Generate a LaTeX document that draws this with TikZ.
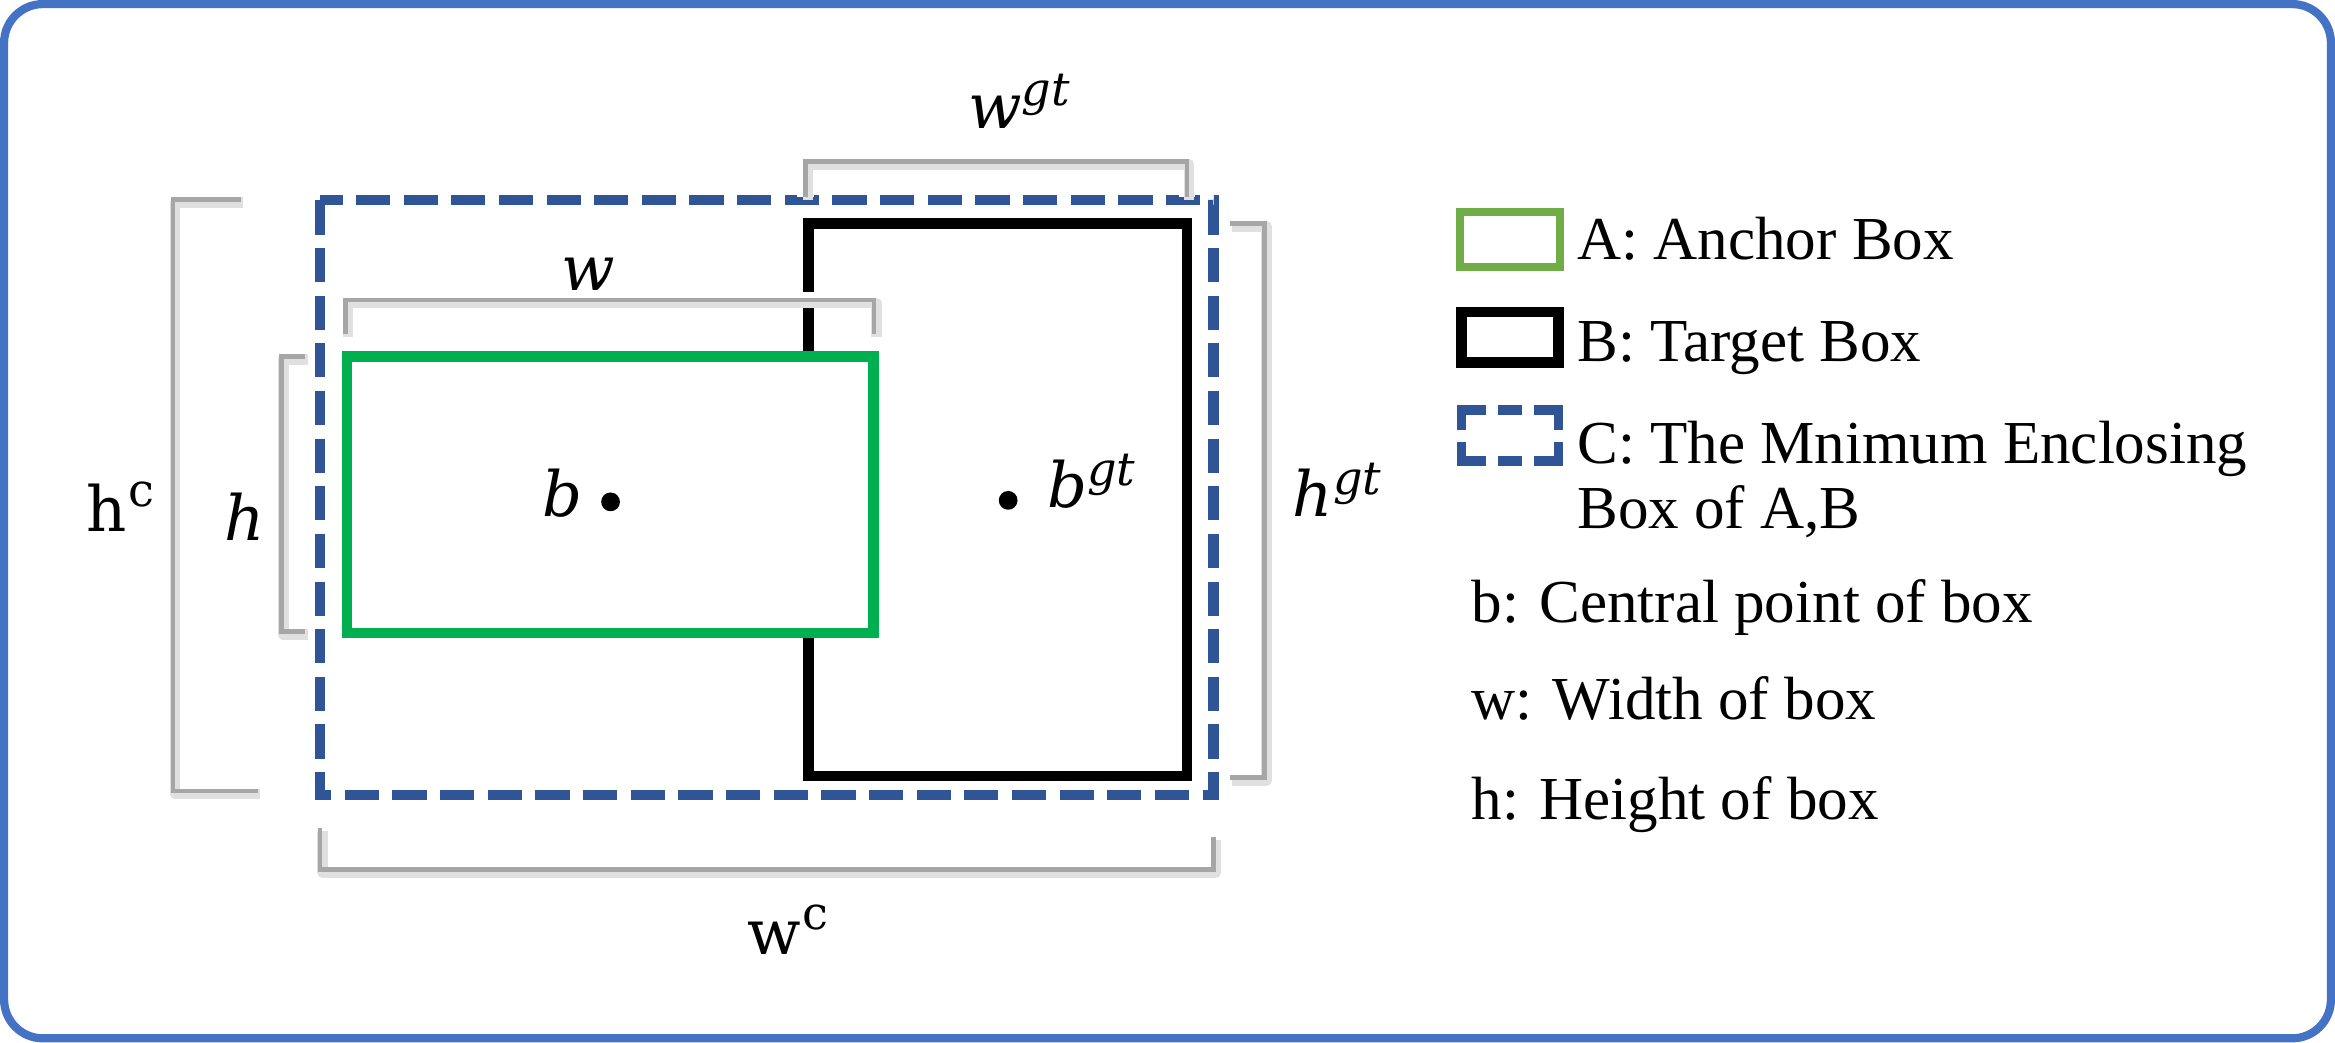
\documentclass[tikz,border=0pt]{standalone}
\usepackage{fontspec}
\setmainfont{Liberation Serif}
\newfontfamily\lblfont{DejaVu Serif}
\newcommand{\supit}[2]{{\lblfont\itshape #1\raisebox{15pt}{\fontsize{31}{34}\selectfont #2}}}
\newcommand{\suprm}[2]{{\lblfont #1\kern1pt\raisebox{17pt}{\fontsize{31}{34}\selectfont #2}}}
\definecolor{framec}{HTML}{4472C4}
\definecolor{dashc}{HTML}{2F5597}
\definecolor{boxgreen}{HTML}{00B050}
\definecolor{leggreen}{HTML}{70AD47}
\definecolor{brk}{HTML}{A6A6A6}
\tikzset{
  frameline/.style={draw=framec, line width=5.5pt, rounded corners=26pt},
  encl/.style={draw=dashc, line width=7pt, dash pattern=on 23pt off 9pt},
  tgt/.style={draw=black, line width=7pt},
  anc/.style={draw=boxgreen, line width=7pt, fill=white},
  bracketline/.style={draw=brk, line width=3pt},
  brackethalo/.style={draw=white, line width=11pt},
  bracketshadow/.style={draw=black!12, line width=7pt, line join=round},
  mathlbl/.style={inner sep=0pt, font=\fontsize{42}{48}\selectfont},
  legtext/.style={inner sep=0pt, anchor=base west, font=\fontsize{41}{48}\selectfont},
  dotc/.style={fill=black},
}
\begin{document}
\begin{tikzpicture}[x=1pt,y=-1pt]
\useasboundingbox (0,0) rectangle (1568,700);
\draw[frameline] (2.75,2.75) rectangle (1565.25,697.25);

% boxes
\coordinate (C1) at (215,134.5);
\coordinate (C2) at (815,534);
\coordinate (B1) at (543,150);
\coordinate (B2) at (797,521);
\coordinate (A1) at (233,239.5);
\coordinate (A2) at (586.5,425);
\draw[encl] (C1) rectangle (C2);
\draw[tgt] (B1) rectangle (B2);

% bracket coordinates
\coordinate (wgt1) at (541,132); \coordinate (wgt2) at (541,108.5);
\coordinate (wgt3) at (797,108.5); \coordinate (wgt4) at (797,132);
\coordinate (w1) at (232,224); \coordinate (w2) at (232,201.5);
\coordinate (w3) at (587,201.5); \coordinate (w4) at (587,224);
\coordinate (h1) at (205,239.5); \coordinate (h2) at (189,239.5);
\coordinate (h3) at (189,424); \coordinate (h4) at (205,424);
\coordinate (hc1) at (162,134); \coordinate (hc2) at (116,134);
\coordinate (hc3) at (116,531); \coordinate (hc4) at (173,531);
\coordinate (hgt1) at (826,150); \coordinate (hgt2) at (849,150);
\coordinate (hgt3) at (849,522); \coordinate (hgt4) at (826,522);
\coordinate (wc1) at (215,556); \coordinate (wc2) at (215,584);
\coordinate (wc3) at (815,584); \coordinate (wc4) at (815,562);

\foreach \p in {wgt,w,h,hc,hgt,wc}{
  \draw[brackethalo] (\p1) -- (\p2) -- (\p3) -- (\p4);
}
\foreach \p in {wgt,w,h,hc,hgt,wc}{
  \draw[bracketshadow] ([shift={(1.5,2)}]\p1) -- ([shift={(1.5,2)}]\p2) -- ([shift={(1.5,2)}]\p3) -- ([shift={(1.5,2)}]\p4);
}
\foreach \p in {wgt,w,h,hc,hgt,wc}{
  \draw[bracketline] (\p1) -- (\p2) -- (\p3) -- (\p4);
}

\draw[anc] (A1) rectangle (A2);

% center dots
\fill[dotc] (410,337) circle (6.3pt) coordinate (bdot);
\fill[dotc] (677,336) circle (6.3pt) coordinate (bgtdot);

% labels
\node[mathlbl, anchor=base] (lb) at (378,347) {\lblfont\itshape b};
\node[mathlbl, anchor=base west] (lbgt) at (703,341) {\supit{b}{gt}};
\node[mathlbl, anchor=base] (lw) at (395,195) {\lblfont\itshape w};
\node[mathlbl, anchor=base west] (lwgt) at (650,86) {\supit{w}{gt}};
\node[mathlbl, anchor=base] (lh) at (164,363) {\lblfont\itshape h};
\node[mathlbl, anchor=base west] (lhc) at (58,357) {\suprm{h}{c}};
\node[mathlbl, anchor=base west] (lhgt) at (868,347) {\supit{h}{gt}};
\node[mathlbl, anchor=base west] (lwc) at (502,641) {\suprm{w}{c}};

% legend
\draw[draw=leggreen, line width=5.5pt] (980.5,142.5) rectangle (1047.5,179.5) coordinate (legA);
\draw[draw=black, line width=7pt] (981.5,209.5) rectangle (1046.5,243.5) coordinate (legB);
\begin{scope}[draw=dashc, line width=6.5pt]
\draw (981.5,289) -- (981.5,275.5) -- (998,275.5);
\draw (1006,275.5) -- (1022,275.5);
\draw (1030,275.5) -- (1046.5,275.5) -- (1046.5,289);
\draw (981.5,297) -- (981.5,309.5) -- (998,309.5);
\draw (1006,309.5) -- (1022,309.5);
\draw (1030,309.5) -- (1046.5,309.5) -- (1046.5,297);
\end{scope}
\coordinate (legC) at (1014,292.5);

\node[legtext] (ta) at (1059,174) {A: Anchor Box};
\node[legtext] (tb) at (1059,243) {B: Target Box};
\node[legtext] (tc) at (1059,311) {C: The Mnimum Enclosing};
\node[legtext] (tc2) at (1059,355) {Box of A,B};
\node[legtext] (td) at (988,418) {b: Central point of box};
\node[legtext] (te) at (988,483) {w: Width of box};
\node[legtext] (tf) at (988,550) {h: Height of box};
\end{tikzpicture}
\end{document}
